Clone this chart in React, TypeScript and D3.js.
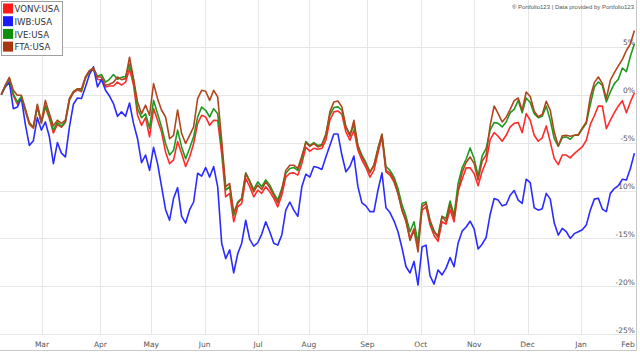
import * as d3 from 'd3';

// Cumulative return (%) — Feb 2022 to Feb 2023, sampled evenly over trading days
const months = ['Mar', 'Apr', 'May', 'Jun', 'Jul', 'Aug', 'Sep', 'Oct', 'Nov', 'Dec', 'Jan', 'Feb'];
const monthStartDays = [16, 39, 59, 80, 101, 121, 144, 165, 186, 207, 228, 248];
const lastDay = 249;
const yTicks = [5, 0, -5, -10, -15, -20, -25];
const seriesNames = ['VONV:USA', 'IWB:USA', 'IVE:USA', 'FTA:USA'];
const seriesColors = ['#ff2b2b', '#2b2bff', '#1f9a1f', '#b0461f'];
const legendColors = ['#ff1a1a', '#1a1aff', '#0c900c', '#a8360f'];

const vonv = [
  0, 0.9, 1.6, -0.1, -1.0, -0.3, -1.7, -3.1, -3.5, -1.3, -3.0, -1.3, -2.5, -4.0, -3.1, -3.4, -2.9, -0.6, 0.2, 0.5,
  0.3, 1.7, 2.4, 2.6, 1.6, 1.5, 0.8, 0.9, 0.9, 1.3, 1.0, 1.3, 2.7, 1.0, -2.15, -3.2, -2.4, -4.4, -1.46, -2.67,
  -3.9, -6.0, -7.2, -6.8, -4.9, -6.15, -7.5, -6.5, -5.1, -3.0, -2.15, -2.33, -3.2, -2.67,
  -2.7, -6.15, -10.66, -10.3, -13.26, -11.7, -11.35, -8.75, -9.6, -10.66, -9.97, -10.3, -9.6, -10.14, -10.83, -11.7,
  -10.5, -8.6, -8.2, -8.16, -8.4, -7.2, -5.5, -5.9, -5.6, -5.7, -5.6, -4.76, -2.67, -1.8, -1.7, -2.05, -3.9, -4.76,
  -3.7, -5.8, -6.84, -7.6, -8.6, -7.9, -6.1, -4.4, -8.05, -8.4, -9.1, -10.3, -12.05, -13.26, -15.0, -13.96, -15.7,
  -12.05, -11.7,
  -13.6, -14.7, -15.3, -13.26, -13.5, -12.0, -13.26, -10.07, -8.82, -7.64, -7.64, -8.23, -9.5, -8.0, -7.0, -4.7,
  -3.96, -4.34, -4.86, -4.24, -3.37, -3.0, -2.9, -3.96, -1.98, -2.67, -4.24, -4.86, -4.5, -3.26, -4.93, -6.67, -7.3,
  -6.3, -6.3, -6.6, -6.15, -5.8, -5.45, -4.76, -3.1, -2.2, -1.18, -1.2, -3.54, -2.67, -1.88, -1.18, -0.63, -1.88,
  -0.76, 0.2,
];
const iwb = [
  0, 0.8, 1.3, -1.46, -1.3, -0.35, -3.1, -5.3, -4.8, -2.4, -3.7, -2.85, -4.4, -7.2, -5.0, -6.1, -6.5, -3.4, -1.0,
  -0.35, -0.4, 0.8, 2.1, 2.9, 0.8, 1.6, 0.45, -0.15, -0.94, -2.26, -1.8, -2.26, -0.87, -3.0, -4.6, -7.1, -6.3, -7.9,
  -5.5, -7.2, -9.6, -12.0, -13.1, -10.8, -9.7, -12.7, -13.4, -12.0, -11.2, -8.2, -8.5, -7.6, -8.6, -7.5,
  -9.6, -15.5, -17.1, -16.2, -18.6, -16.6, -15.5, -13.1, -15.1, -15.8, -15.45, -14.55, -13.26, -14.3, -15.5, -15.7,
  -14.65, -12.05, -11.2, -12.05, -12.7, -9.6, -8.3, -8.6, -7.5, -7.6, -7.8, -6.5, -5.3, -4.1, -4.1, -6.3, -8.05,
  -7.5, -6.4, -9.6, -11.3, -11.6, -12.2, -12.2, -9.97, -8.16, -11.8, -12.3, -13.16, -14.3, -16.0, -17.95, -18.6,
  -17.4, -19.86, -15.9, -15.7,
  -18.9, -19.76, -18.3, -18.8, -18.1, -17.0, -17.95, -15.5, -14.24, -13.8, -13.2, -14.0, -16.1, -15.6, -14.9, -12.5,
  -10.83, -11.0, -11.6, -11.46, -10.5, -10.0, -11.0, -11.35, -8.82, -9.17, -11.8, -12.05, -11.9, -10.3, -10.9,
  -13.4, -14.65, -13.96, -14.3, -15.0, -14.5, -14.3, -14.1, -13.6, -12.05, -10.9, -10.8, -11.94, -12.2, -10.3, -9.8,
  -9.5, -8.82, -8.9, -7.7, -6.1,
];
const ive = [
  0, 0.9, 1.7, 0.1, -0.8, -0.2, -1.6, -3.0, -3.4, -1.2, -2.9, -1.1, -2.3, -3.7, -2.9, -3.3, -2.8, -0.5, 0.3, 0.6,
  0.4, 1.8, 2.5, 2.7, 1.9, 2.1, 1.3, 1.6, 2.1, 1.6, 1.8, 1.9, 3.2, 1.5, -1.46, -2.4, -2.0, -3.5, -0.6, -2.0, -3.37,
  -5.1, -6.3, -5.8, -3.7, -5.45, -6.7, -5.6, -4.4, -2.33, -1.3, -1.63, -2.33, -1.46,
  -2.0, -5.45, -9.97, -9.6, -12.6, -11.2, -10.83, -8.16, -9.0, -9.9, -9.1, -9.6, -8.9, -9.44, -10.3, -11.0, -9.8,
  -8.2, -7.7, -7.6, -7.9, -6.7, -4.9, -5.3, -5.0, -5.3, -5.2, -4.1, -2.15, -1.35, -1.28, -1.63, -3.37, -4.13, -3.2,
  -5.3, -6.3, -7.1, -8.05, -7.36, -5.6, -4.13, -7.5, -7.9, -8.6, -9.8, -11.5, -12.7, -14.3, -13.26, -15.5, -11.35,
  -11.2,
  -13.3, -14.4, -14.65, -12.7, -12.9, -11.1, -12.6, -9.27, -7.64, -6.74, -5.56, -6.67, -8.47, -6.4, -5.6, -3.7,
  -2.9, -3.0, -3.37, -2.85, -1.88, -1.53, -0.6, -1.88, -0.35, -0.83, -1.98, -2.4, -2.26, -1.2, -2.67, -4.58, -5.4,
  -4.5, -4.4, -4.65, -4.24, -4.24, -3.6, -3.0, -1.04, 0.8, 1.32, 0.97, -0.76, 0.28, 1.15, 1.6, 2.78, 2.4, 4.0, 5.3,
];
const fta = [
  0, 1.0, 1.8, 0.45, -0.07, -0.07, -1.46, -2.95, -3.37, -1.0, -2.85, -0.6, -2.0, -3.26, -2.67, -3.0, -2.67, -0.4,
  0.3, 0.6, 0.6, 1.84, 2.5, 2.8, 1.84, 1.84, 0.97, 1.08, 1.3, 1.84, 1.56, 1.67, 3.9, 1.67, -0.76, -2.0, -1.1, -2.15,
  1.15, -0.42, -1.63, -2.33, -4.6, -4.24, -1.6, -4.06, -5.1, -4.24, -3.37, -0.42, 0.45, 0.35, -0.6, 0.45,
  -0.24, -4.76, -9.6, -9.27, -12.3, -11.35, -10.83, -8.23, -9.1, -10.14, -9.44, -9.9, -9.1, -9.7, -10.5, -11.3,
  -10.0, -7.9, -7.36, -7.36, -7.7, -6.4, -5.0, -5.4, -5.1, -5.45, -5.3, -4.24, -1.8, -0.76, -0.66, -1.28, -3.37,
  -4.34, -2.67, -5.4, -6.5, -7.26, -8.16, -7.36, -5.7, -4.13, -7.9, -8.16, -8.9, -10.3, -12.05, -13.1, -15.2,
  -14.13, -16.4, -11.7, -11.35,
  -13.1, -14.2, -14.9, -12.7, -13.26, -11.46, -12.9, -10.0, -8.13, -7.08, -6.5, -7.2, -8.9, -6.94, -6.3, -3.2,
  -1.18, -1.98, -2.85, -2.36, -1.53, -0.63, -0.35, -1.63, 0.28, -0.2, -1.74, -2.3, -2.08, -0.7, -1.63, -3.9, -5.35,
  -4.3, -4.24, -4.34, -4.24, -4.17, -3.47, -2.85, -0.24, 1.25, 1.84, 1.18, -0.42, 1.5, 2.3, 3.0, 3.68, 4.6, 5.3, 6.7,
];

const W = 640;
const H = 354;
const FONT = '"DejaVu Sans", Verdana, sans-serif';

export default function App() {
  const x = d3.scaleLinear().domain([0, lastDay]).range([1.3, 634.4]);
  const y = d3.scaleLinear().domain([-25, 5]).range([334.3, 46.7]);
  const series = [vonv, iwb, ive, fta];

  const line = (arr: number[]) =>
    d3
      .line<number>()
      .x((d, i) => x((i * lastDay) / (arr.length - 1)))
      .y(d => y(d))(arr) || '';

  return (
    <svg
      width={W}
      height={H}
      style={{ position: 'absolute', left: 0, top: 0, background: '#fff' }}
      fontFamily={FONT}
    >
      <rect x={0} y={0} width={W} height={H} fill="#fff" />
      {/* grid */}
      {yTicks.map(t => (
        <line key={'h' + t} x1={0} x2={636} y1={Math.round(y(t)) + 0.5} y2={Math.round(y(t)) + 0.5} stroke="#e6e6e6" />
      ))}
      {monthStartDays.slice(0, -1).map(d => (
        <line key={'v' + d} x1={Math.round(x(d)) + 0.5} x2={Math.round(x(d)) + 0.5} y1={0} y2={334} stroke="#e6e6e6" />
      ))}
      {/* frame */}
      <line x1={636.5} x2={636.5} y1={0} y2={351} stroke="#c8c8c8" />
      <line x1={0} x2={637} y1={350.5} y2={350.5} stroke="#c8c8c8" />

      {/* y labels */}
      {yTicks.map(t => (
        <text key={'yl' + t} x={635} y={y(t) - 1.5} textAnchor="end" fontSize={7.5} fill="#555">
          {t + '%'}
        </text>
      ))}
      {/* month labels */}
      {monthStartDays.map((d, i) => (
        <text key={'m' + d} x={Math.min(x(d), 628)} y={347} textAnchor="middle" fontSize={7.5} fill="#555">
          {months[i]}
        </text>
      ))}

      {/* lines */}
      {series.map((s, k) => (
        <path key={seriesNames[k]} d={line(s)} fill="none" stroke={seriesColors[k]} strokeWidth={1.6} strokeLinejoin="round" />
      ))}

      {/* attribution */}
      <text x={634} y={9} textAnchor="end" fontSize={6} fill="#555" fontFamily='"Liberation Sans", Arial, sans-serif'>
        ® Portfolio123 | Data provided by Portfolio123
      </text>

      {/* legend */}
      <g>
        <rect x={1.5} y={1.5} width={61} height={54} fill="#fff" stroke="#a0a0a0" />
        {seriesNames.map((n, k) => (
          <g key={n} transform={`translate(3, ${3.5 + k * 12.7})`}>
            <rect x={0} y={0} width={10} height={10} fill={legendColors[k]} />
            <text x={11.5} y={8.8} fontSize={8.6} fill="#333">
              {n}
            </text>
          </g>
        ))}
      </g>
    </svg>
  );
}
